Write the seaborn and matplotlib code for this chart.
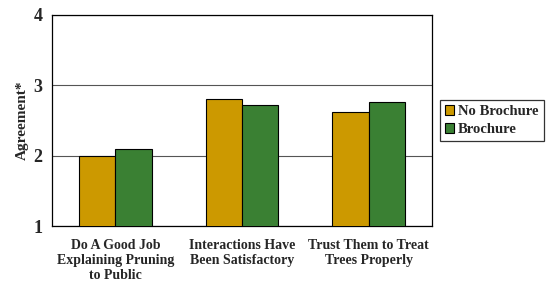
import matplotlib
matplotlib.use("Agg")
import matplotlib.pyplot as plt
import seaborn as sns
import pandas as pd

categories = ["Do A Good Job\nExplaining Pruning\nto Public",
              "Interactions Have\nBeen Satisfactory",
              "Trust Them to Treat\nTrees Properly"]
no_brochure = [2.00, 2.80, 2.62]
brochure = [2.09, 2.72, 2.76]
series = ["No Brochure", "Brochure"]
colors = ["#CC9900", "#3A8033"]

df = pd.DataFrame({
    "cat": categories * 2,
    "val": no_brochure + brochure,
    "series": [series[0]] * 3 + [series[1]] * 3,
})

sns.set_style("white")
plt.rcParams["font.family"] = ["Liberation Serif", "DejaVu Serif"]
plt.rcParams["font.weight"] = "bold"

fig = plt.figure(figsize=(5.51, 2.83), dpi=100)
ax = fig.add_axes([0.0944, 0.2014, 0.6896, 0.7456])

sns.barplot(data=df, x="cat", y="val", hue="series", palette=colors,
            saturation=1, width=0.575, gap=0, edgecolor="black", linewidth=0.8,
            ax=ax, zorder=3)

ax.set_ylim(1, 4)
ax.set_yticks([1, 2, 3, 4])
ax.set_xlim(-0.5, 2.5)
ax.set_xticks([0.5, 1.5], minor=False)
ax.set_xticklabels([])
ax.set_xticks([0, 1, 2], minor=True)
ax.set_xticklabels(categories, minor=True, fontsize=10, fontweight="bold", linespacing=1.2)
ax.tick_params(axis="x", which="minor", length=0, pad=9)
ax.tick_params(axis="x", which="major", length=4, direction="out", width=0.8, colors="black")
ax.tick_params(axis="y", length=4, direction="out", width=0.8, labelsize=13, pad=3)
for lbl in ax.get_yticklabels():
    lbl.set_fontweight("bold")
ax.set_xlabel("")
ax.set_ylabel("Agreement*", fontsize=11, fontweight="bold", labelpad=3)

ax.yaxis.grid(True, color="#555555", linewidth=0.8, zorder=0)
ax.set_axisbelow(True)
for s in ax.spines.values():
    s.set_visible(True)
    s.set_color("black")
    s.set_linewidth(0.9)

leg = ax.legend(loc="center left", bbox_to_anchor=(1.02, 0.50), frameon=True,
                fancybox=False, edgecolor="black", fontsize=10.6,
                handlelength=0.65, handleheight=0.65, handletextpad=0.25,
                borderpad=0.35, labelspacing=0.35, borderaxespad=0)
for t in leg.get_texts():
    t.set_fontweight("bold")
leg.get_frame().set_linewidth(0.9)

fig.savefig("out.png", dpi=100)
